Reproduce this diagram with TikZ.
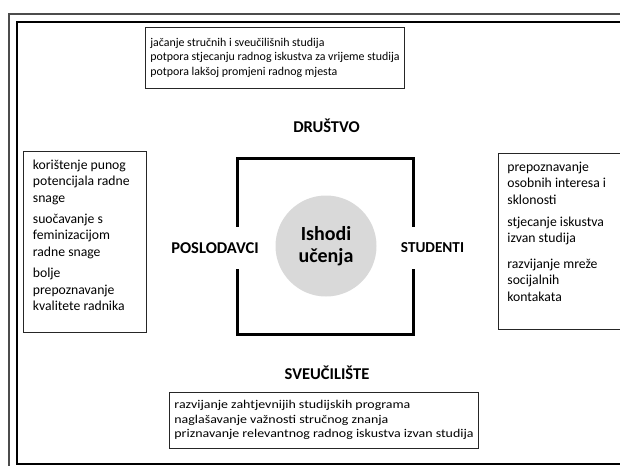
\documentclass[tikz,border=0pt]{standalone}
\usepackage{fontspec}
\setmainfont{Carlito}
\newfontfamily\widefont[FakeStretch=1.17]{Carlito}
\usepackage{tikz}
\usetikzlibrary{positioning}

\newcommand{\sidetext}[3]{\parbox[t][#1][t]{104pt}{\raggedright\vspace*{#2}#3}}

\tikzset{
    box/.style={draw=black!85, line width=0.8pt, align=left, inner xsep=5pt},
    sidebox/.style={draw=black!85, line width=0.8pt, anchor=north west, inner xsep=9.5pt, inner ysep=5.5pt,
        font=\fontsize{13.7}{16.5}\selectfont},
    head/.style={font=\fontsize{16.5}{18}\selectfont\bfseries, fill=white}
}

\begin{document}
\begin{tikzpicture}[x=1pt, y=-1pt]
        \useasboundingbox (0, 0) rectangle (620, 466);
        \draw[line width=1.5pt, black!70] (620, 14) -| (9, 466);
        \draw[line width=1.8pt] (620, 22) -| (17, 464) -- (620, 464);

        \node[draw, line width=3pt, minimum size=176pt] (sq) at (325.5, 246) {};
        \node[circle, fill=black!15, minimum size=101pt, align=center,
            font=\fontsize{20}{22}\selectfont\bfseries] (ishodi) at (326, 246) {Ishodi\\učenja};

        \node[head] (drustvo) at (326.5, 126) {DRUŠTVO};
        \node[head] (sveuciliste) at (327, 373) {SVEUČILIŠTE};
        \node[head, inner ysep=16pt] (poslodavci) at (215, 248) {POSLODAVCI};
        \node[head, inner ysep=16pt, font=\fontsize{15.2}{18}\selectfont\bfseries] (studenti) at (432.5, 248) {STUDENTI};

        \node[box, font=\fontsize{11.9}{14.5}\selectfont, minimum width=256pt, minimum height=61pt] (drustvo list) at (275, 57.5)
            {jačanje stručnih i sveučilišnih studija\\
             potpora stjecanju radnog iskustva za vrijeme studija\\
             potpora lakšoj promjeni radnog mjesta};
        \node[box, font=\widefont\fontsize{11.9}{14.5}\selectfont, minimum width=308pt, minimum height=56pt] (sveuciliste list) at (324, 420)
            {razvijanje zahtjevnijih studijskih programa\\
             naglašavanje važnosti stručnog znanja\\
             priznavanje relevantnog radnog iskustva izvan studija};
        \node[sidebox] (poslodavci list) at (23, 151)
            {\sidetext{170pt}{3pt}{korištenje punog\\ potencijala radne\\ snage\\[4.5pt]
             suočavanje s\\ feminizacijom\\ radne snage\\[5pt]
             bolje\\ prepoznavanje\\ kvalitete radnika}};
        \node[sidebox, inner xsep=9pt] (studenti list) at (498, 153)
            {\sidetext{165pt}{3pt}{prepoznavanje\\ osobnih interesa i\\ sklonosti\\[5.5pt]
             stjecanje iskustva\\ izvan studija\\[9pt]
             razvijanje mreže\\ socijalnih\\ kontakata}};
    \end{tikzpicture}
\end{document}
